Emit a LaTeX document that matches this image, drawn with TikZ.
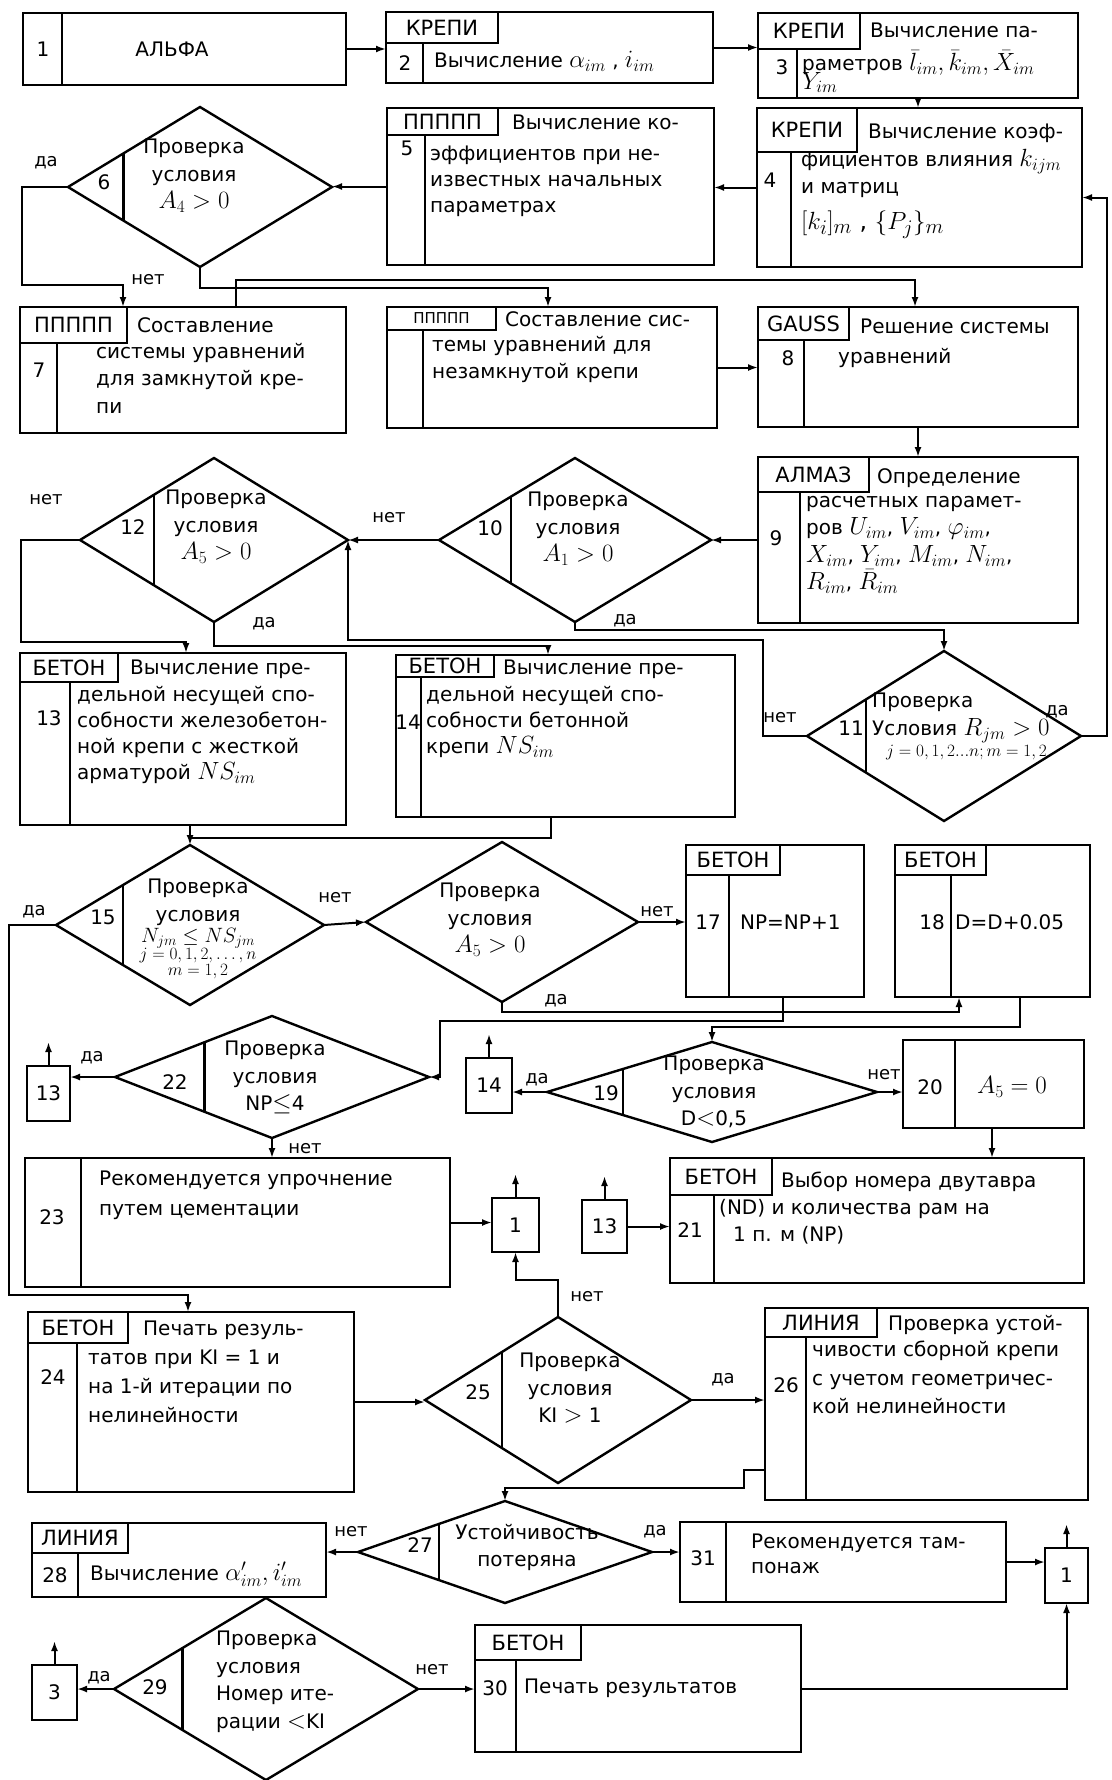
\documentclass[tikz,border=0pt]{standalone}
\usepackage{fontspec}
\setmainfont{DejaVu Sans}
\usetikzlibrary{arrows.meta,calc,fit,shapes.geometric}
\DeclareMathSizes{20}{25}{17}{12}
\DeclareMathSizes{24}{28}{20}{14}
\DeclareMathSizes{17}{20}{14}{10}
\DeclareMathSizes{14}{17}{12}{10}
\newcommand\txtfont{\fontsize{20}{27.5}\selectfont}
\newcommand\tagfont{\fontsize{21}{24}\selectfont}
\newcommand\smallfont{\fontsize{14}{16}\selectfont}
\tikzset{
    box/.style={draw, line width=2.4pt, inner sep=0pt, outer sep=0pt},
    tag/.style={box, font=\tagfont, anchor=north west},
    conn/.style={box, font=\txtfont, anchor=north west},
    cond/.style={draw, diamond, line width=2.4pt, inner sep=0pt, outer sep=0pt},
    divline/.style={line width=2.4pt},
    txt/.style={anchor=north west, align=left, inner sep=0pt, font=\txtfont,
        execute at begin node=\strut, yshift=14pt},
    ctxt/.style={txt, anchor=north, align=center},
    num/.style={inner sep=0pt, font=\txtfont},
    yn/.style={inner sep=0pt, font=\fontsize{18}{20}\selectfont},
    link/.style={line width=2pt},
    arr/.style={link, -{Latex[length=10pt,width=7pt]}},
}
\begin{document}
\begin{tikzpicture}[x=1pt, y=-1pt]
    \useasboundingbox (0,0) rectangle (1111,1780);

    \def\cut#1#2{\draw[divline] ($(#1.west)!#2!(#1.north)$) -- ($(#1.west)!#2!(#1.south)$);}

    %blocks 1-5:
    \node[box, fit={(23,13) (346,85)}] (b1) {};
    \draw[divline] (62,13) -- (62,85);
    \node[num] (n1) at (43,49) {1};
    \node[num] (t1) at (172,49) {АЛЬФА};

    \node[box, fit={(386,12) (713,83)}] (b2) {};
    \node[tag, minimum width=112pt, minimum height=31pt] (h2) at (386,12) {КРЕПИ};
    \draw[divline] (423,43) -- (423,83);
    \node[num] (n2) at (405,63) {2};
    \node[txt] (t2) at (434,62) {Вычисление $\alpha_{im}$ , $i_{im}$};

    \node[box, fit={(758,13) (1078,98)}] (b3) {};
    \node[tag, minimum width=102pt, minimum height=36pt] (h3) at (758,13) {КРЕПИ};
    \draw[divline] (797,49) -- (797,98);
    \node[num] (n3) at (782,67) {3};
    \node[txt] (t3a) at (870,32) {Вычисление па-};
    \node[txt] (t3b) at (802,64) {раметров $\bar l_{im}, \bar k_{im}, \bar X_{im}$\\[-9pt]$Y_{im}$};

    \node[box, fit={(757,108) (1082,267)}] (b4) {};
    \node[tag, minimum width=100pt, minimum height=44pt] (h4) at (757,108) {КРЕПИ};
    \draw[divline] (791,152) -- (791,267);
    \node[num] (n4) at (770,180) {4};
    \node[txt] (t4a) at (868,133) {Вычисление коэф-};
    \node[txt] (t4b) at (801,163) {фициентов влияния $k_{ijm}$\\и матриц\\[8pt]{\fontsize{24}{27.5}\selectfont$[k_i]_m$ , $\{P_j\}_m$}};

    \node[box, fit={(387,108) (714,265)}] (b5) {};
    \node[tag, minimum width=111pt, minimum height=27pt] (h5) at (387,108) {ППППП};
    \draw[divline] (425,135) -- (425,265);
    \node[num] (n5) at (407,148) {5};
    \node[txt] (t5a) at (512,124) {Вычисление ко-};
    \node[txt, font=\fontsize{20}{26}\selectfont] (t5b) at (430,160) {эффициентов при не-\\известных начальных\\параметрах};

    %check 6:
    \node[cond, minimum width=264pt, minimum height=160pt] (d6) at (200,187) {};
    \cut{d6}{0.42}
    \node[num] (n6) at (104,182) {6};
    \node[ctxt] (t6) at (194,153) {Проверка\\условия\\$A_4 > 0$};
    \node[yn] (y6) at (46,163) {да};
    \node[yn] (no6) at (148,280) {нет};

    %blocks 7, 8:
    \node[box, fit={(20,307) (346,433)}] (b7) {};
    \node[tag, minimum width=107pt, minimum height=36pt] (h7) at (20,307) {ППППП};
    \draw[divline] (57,343) -- (57,433);
    \node[num] (n7) at (39,370) {7};
    \node[txt] (t7a) at (137,327) {Составление};
    \node[txt] (t7b) at (96,357) {системы уравнений\\для замкнутой кре-\\пи};

    \node[box, fit={(387,307) (717,428)}] (b7b) {};
    \node[tag, font=\fontsize{15}{17}\selectfont, minimum width=109pt, minimum height=23pt] (h7b) at (387,307) {ППППП};
    \draw[divline] (423,330) -- (423,428);
    \node[txt] (t7c) at (505,321) {Составление сис-};
    \node[txt] (t7d) at (432,350) {темы уравнений для\\незамкнутой крепи};

    \node[box, fit={(758,307) (1078,427)}] (b8) {};
    \node[tag, minimum width=91pt, minimum height=33pt] (h8) at (758,307) {GAUSS};
    \draw[divline] (804,340) -- (804,427);
    \node[num] (n8) at (788,358) {8};
    \node[txt] (t8a) at (860,328) {Решение системы};
    \node[txt] (t8b) at (838,358) {уравнений};

    %block 9, checks 10-12:
    \node[box, fit={(758,457) (1078,623)}] (b9) {};
    \node[tag, minimum width=111pt, minimum height=35pt] (h9) at (758,457) {АЛМАЗ};
    \draw[divline] (800,492) -- (800,623);
    \node[num] (n9) at (776,538) {9};
    \node[txt] (t9a) at (877,478) {Определение};
    \node[txt] (t9b) at (806,510) {расчетных парамет-\\ров $U_{im}$, $V_{im}$, $\varphi_{im}$,\\$X_{im}$, $Y_{im}$, $M_{im}$, $N_{im}$,\\$R_{im}$, $\bar R_{im}$};

    \node[cond, minimum width=272pt, minimum height=164pt] (d10) at (575,540) {};
    \cut{d10}{0.53}
    \node[num] (n10) at (490,528) {10};
    \node[ctxt] (t10) at (578,506) {Проверка\\условия\\$A_1 > 0$};
    \node[yn] (no10) at (389,518) {нет};
    \node[yn] (y10) at (625,621) {да};

    \node[cond, minimum width=274pt, minimum height=170pt] (d11) at (944,736) {};
    \cut{d11}{0.43}
    \node[num] (n11) at (851,728) {11};
    \node[txt] (t11) at (872,707) {Проверка\\Условия $R_{jm}>0$\\[-6pt]\hspace*{14pt}{\smallfont$j=0,1,2...n;m=1,2$}};
    \node[yn] (no11) at (780,718) {нет};
    \node[yn] (y11) at (1057,712) {да};

    \node[cond, minimum width=268pt, minimum height=164pt] (d12) at (214,540) {};
    \cut{d12}{0.55}
    \node[num] (n12) at (133,527) {12};
    \node[ctxt] (t12) at (216,504) {Проверка\\условия\\$A_5 > 0$};
    \node[yn] (no12) at (46,500) {нет};
    \node[yn] (y12) at (264,624) {да};

    %blocks 13, 14:
    \node[box, fit={(20,653) (346,825)}] (b13) {};
    \node[tag, minimum width=98pt, minimum height=29pt] (h13) at (20,653) {БЕТОН};
    \draw[divline] (70,682) -- (70,825);
    \node[num] (n13) at (49,718) {13};
    \node[txt] (t13a) at (130,669) {Вычисление пре-};
    \node[txt, font=\fontsize{20}{26}\selectfont] (t13b) at (77,700) {дельной несущей спо-\\собности железобетон-\\ной крепи с жесткой\\арматурой $NS_{im}$};

    \node[box, fit={(396,655) (735,817)}] (b14) {};
    \node[tag, minimum width=98pt, minimum height=22pt] (h14) at (396,655) {БЕТОН};
    \draw[divline] (421,677) -- (421,817);
    \node[num] (n14) at (408,722) {14};
    \node[txt] (t14a) at (503,669) {Вычисление пре-};
    \node[txt, font=\fontsize{20}{26}\selectfont] (t14b) at (426,700) {дельной несущей спо-\\собности бетонной\\крепи $NS_{im}$};

    %checks 15, 16 and blocks 17, 18:
    \node[cond, minimum width=268pt, minimum height=160pt] (d15) at (190,925) {};
    \cut{d15}{0.5}
    \node[num] (n15) at (103,917) {15};
    \node[ctxt] (t15) at (198,893) {Проверка\\условия\\[-6pt]{\fontsize{17}{20}\selectfont$N_{jm}\le NS_{jm}$}\\[-11pt]{\smallfont$j=0,1,2,\dots,n$}\\[-11pt]{\smallfont$m=1,2$}};
    \node[yn] (y15) at (34,912) {да};
    \node[yn] (no15) at (335,898) {нет};

    \node[cond, minimum width=272pt, minimum height=160pt] (d16) at (502,922) {};
    \node[ctxt] (t16) at (490,897) {Проверка\\условия\\$A_5 > 0$};
    \node[yn] (no16) at (657,912) {нет};
    \node[yn] (y16) at (556,1001) {да};

    \node[box, fit={(686,845) (864,997)}] (b17) {};
    \node[tag, minimum width=94pt, minimum height=30pt] (h17) at (686,845) {БЕТОН};
    \draw[divline] (729,875) -- (729,997);
    \node[num] (n17) at (708,922) {17};
    \node[num, anchor=west] (t17) at (740,922) {NP=NP+1};

    \node[box, fit={(895,845) (1090,997)}] (b18) {};
    \node[tag, minimum width=91pt, minimum height=30pt] (h18) at (895,845) {БЕТОН};
    \draw[divline] (951,875) -- (951,997);
    \node[num] (n18) at (932,922) {18};
    \node[num, anchor=west] (t18) at (955,922) {D=D+0.05};

    %checks 19, 22 and blocks 20, 21, 23:
    \node[cond, minimum width=330pt, minimum height=100pt] (d19) at (712,1092) {};
    \cut{d19}{0.46}
    \node[num] (n19) at (606,1093) {19};
    \node[ctxt] (t19) at (714,1070) {Проверка\\условия\\D$<$0,5};
    \node[yn] (y19) at (537,1080) {да};
    \node[yn] (no19) at (884,1075) {нет};

    \node[box, fit={(903,1040) (1084,1128)}] (b20) {};
    \draw[divline] (955,1040) -- (955,1128);
    \node[num] (n20) at (930,1087) {20};
    \node[num] (t20) at (1012,1087) {$A_5 = 0$};

    \node[box, fit={(670,1158) (1084,1283)}] (b21) {};
    \node[tag, minimum width=102pt, minimum height=37pt] (h21) at (670,1158) {БЕТОН};
    \draw[divline] (714,1195) -- (714,1283);
    \node[num] (n21) at (690,1230) {21};
    \node[txt] (t21a) at (781,1182) {Выбор номера двутавра};
    \node[txt] (t21b) at (719,1213) {(ND) и количества рам на\\\hspace*{14pt}1 п. м (NP)};

    \node[cond, minimum width=314pt, minimum height=122pt] (d22) at (272,1077) {};
    \cut{d22}{0.57}
    \node[num] (n22) at (175,1082) {22};
    \node[ctxt] (t22) at (275,1055) {Проверка\\условия\\NP$\le$4};
    \node[yn] (y22) at (92,1058) {да};
    \node[yn] (no22) at (305,1149) {нет};

    \node[box, fit={(25,1158) (450,1287)}] (b23) {};
    \draw[divline] (81,1158) -- (81,1287);
    \node[num] (n23) at (52,1217) {23};
    \node[txt, font=\fontsize{20}{30}\selectfont] (t23) at (99,1185) {Рекомендуется упрочнение\\путем цементации};

    %go-to boxes:
    \node[conn, minimum width=43pt, minimum height=55pt] (k13a) at (27,1066) {13};
    \node[conn, minimum width=46pt, minimum height=55pt] (k14) at (466,1058) {14};
    \node[conn, minimum width=47pt, minimum height=54pt] (k1a) at (492,1198) {1};
    \node[conn, minimum width=45pt, minimum height=53pt] (k13b) at (582,1200) {13};
    \node[conn, minimum width=43pt, minimum height=55pt] (k1b) at (1045,1548) {1};
    \node[conn, minimum width=45pt, minimum height=55pt] (k3) at (32,1665) {3};

    %blocks 24-31:
    \node[box, fit={(28,1312) (354,1492)}] (b24) {};
    \node[tag, minimum width=100pt, minimum height=31pt] (h24) at (28,1312) {БЕТОН};
    \draw[divline] (77,1343) -- (77,1492);
    \node[num] (n24) at (53,1377) {24};
    \node[txt] (t24a) at (143,1330) {Печать резуль-};
    \node[txt, font=\fontsize{20}{29}\selectfont] (t24b) at (88,1364) {татов при KI = 1 и\\на 1-й итерации по\\нелинейности};

    \node[cond, minimum width=266pt, minimum height=166pt] (d25) at (558,1400) {};
    \cut{d25}{0.58}
    \node[num] (n25) at (478,1392) {25};
    \node[ctxt] (t25) at (570,1367) {Проверка\\условия\\KI $>$ 1};
    \node[yn] (no25) at (587,1297) {нет};
    \node[yn] (y25) at (723,1380) {да};

    \node[box, fit={(765,1308) (1088,1500)}] (b26) {};
    \node[tag, minimum width=112pt, minimum height=29pt] (h26) at (765,1308) {ЛИНИЯ};
    \draw[divline] (806,1337) -- (806,1500);
    \node[num] (n26) at (786,1385) {26};
    \node[txt] (t26a) at (888,1325) {Проверка устой-};
    \node[txt, font=\fontsize{20}{28.5}\selectfont] (t26b) at (812,1355) {чивости сборной крепи\\с учетом геометричес-\\кой нелинейности};

    \node[cond, minimum width=294pt, minimum height=102pt] (d27) at (505,1552) {};
    \cut{d27}{0.55}
    \node[num] (n27) at (420,1545) {27};
    \node[ctxt] (t27) at (527,1538) {Устойчивость\\потеряна};
    \node[yn] (no27) at (351,1532) {нет};
    \node[yn] (y27) at (655,1532) {да};

    \node[box, fit={(32,1523) (326,1597)}] (b28) {};
    \node[tag, minimum width=96pt, minimum height=30pt] (h28) at (32,1523) {ЛИНИЯ};
    \draw[divline] (78,1553) -- (78,1597);
    \node[num] (n28) at (55,1575) {28};
    \node[num, anchor=west] (t28) at (90,1574) {Вычисление $\alpha'_{im}, i'_{im}$};

    \node[cond, minimum width=304pt, minimum height=182pt] (d29) at (266,1689) {};
    \cut{d29}{0.45}
    \node[num] (n29) at (155,1687) {29};
    \node[txt] (t29) at (216,1645) {Проверка\\условия\\Номер ите-\\рации $<$KI};
    \node[yn] (y29) at (99,1678) {да};
    \node[yn] (no29) at (432,1670) {нет};

    \node[box, fit={(475,1625) (801,1752)}] (b30) {};
    \node[tag, minimum width=106pt, minimum height=35pt] (h30) at (475,1625) {БЕТОН};
    \draw[divline] (516,1660) -- (516,1752);
    \node[num] (n30) at (495,1688) {30};
    \node[num, anchor=west] (t30) at (524,1688) {Печать результатов};

    \node[box, fit={(680,1522) (1006,1602)}] (b31) {};
    \draw[divline] (726,1522) -- (726,1602);
    \node[num] (n31) at (703,1558) {31};
    \node[txt] (t31) at (751,1548) {Рекомендуется там-\\[-3pt]понаж};

    %connections, upper half:
    \draw[arr] (b1.east) -- (b1.east -| b2.west);
    \draw[arr] (b2.east) -- (b2.east -| b3.west);
    \draw[arr] (b3.south) -- (b3.south |- b4.north);
    \draw[arr] (b4.west) -- (b4.west -| b5.east);
    \draw[arr] (b5.west) -- (b5.west -| d6.east);
    \draw[arr] (d6.west) -- (22,187) -- (22,285) -| ([xshift=103pt]b7.north west);
    \draw[arr] (d6.south) -- ++(0,21) -| ([xshift=161pt]b7b.north west);
    \draw[arr] ([xshift=216pt]b7.north west) -- ++(0,-27) -| ([xshift=157pt]b8.north west);
    \draw[arr] (b7b.east) -- (b7b.east -| b8.west);
    \draw[arr] (b8.south) -- (b8.south |- b9.north);
    \draw[arr] (b9.west) -- (d10.east);
    \draw[arr] (d10.west) -- (d12.east);
    \draw[arr] (d10.south) -- ++(0,8) -| (d11.north);
    \draw[arr] (d11.west) -- ++(-44,0) -- (763,640) -| (d12.east);
    \draw[arr] (d11.east) -- ++(26,0) |- ([yshift=-10pt]b4.east);
    \draw[arr] (d12.west) -- (21,540) -- (21,642) -| ([xshift=166pt]b13.north west);
    \draw[arr] (d12.south) -- ++(0,24) -| ([xshift=152pt]b14.north west);
    \coordinate (j15) at (190,838);
    \draw[link] ([xshift=170pt]b13.south west) -- (j15);
    \draw[arr] ([xshift=155pt]b14.south west) -- ++(0,21) -| (d15.north);

    %connections, lower half:
    \draw[arr] (d15.west) -- (9,925) -- (9,1295) -| ([xshift=160pt]b24.north west);
    \draw[arr] (d15.east) -- (d16.west);
    \draw[arr] (d16.east) -- (d16.east -| b17.west);
    \draw[arr] (d16.south) -- ++(0,10) -| ([xshift=64pt]b18.south west);
    \draw[arr] ([xshift=97pt]b17.south west) -- ++(0,24) -- (440,1021) |- (d22.east);
    \draw[arr] ([xshift=125pt]b18.south west) -- ++(0,30) -| (d19.north);
    \draw[arr] (d19.west) -- (d19.west -| k14.east);
    \draw[arr] (d19.east) -- (d19.east -| b20.west);
    \draw[arr] ([xshift=89pt]b20.south west) -- ++(0,30);
    \draw[arr] (d22.west) -- (d22.west -| k13a.east);
    \draw[arr] (d22.south) -- (d22.south |- b23.north);
    \draw[arr] (b23.east) -- (b23.east -| k1a.west);
    \draw[arr] (k13b.east) -- (k13b.east -| b21.west);
    \draw[arr] (d25.north) -- ++(0,-37) -| (k1a.south);
    \draw[arr] (b24.east) -- (b24.east -| d25.west);
    \draw[arr] (d25.east) -- (d25.east -| b26.west);
    \draw[arr] ([yshift=-66pt]b26.west) -- ++(-21,0) -- ++(0,18) -| (d27.north);
    \draw[arr] (d27.west) -- (d27.west -| b28.east);
    \draw[arr] (d27.east) -- (d27.east -| b31.west);
    \draw[arr] (b31.east) -- (b31.east -| k1b.west);
    \draw[link] ([xshift=234pt]b28.south west) -- (d29.north);
    \draw[arr] (d29.west) -- (d29.west -| k3.east);
    \draw[arr] (d29.east) -- (d29.east -| b30.west);
    \draw[arr] (b30.east) -| (k1b.south);

    %arrows out of the go-to boxes:
    \foreach \k in {k13a,k14,k1a,k13b,k1b,k3}
        \draw[arr] (\k.north) -- ++(0,-24);

\end{tikzpicture}
\end{document}
